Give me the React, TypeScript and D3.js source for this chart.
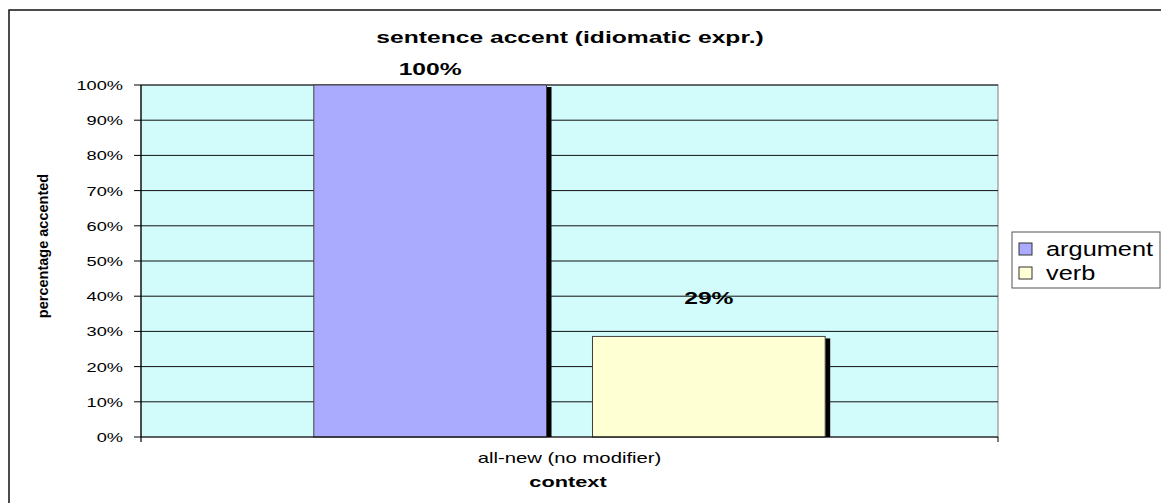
import React from "react";
import * as d3 from "d3";

const categories = ["all-new (no modifier)"];
const seriesNames = ["argument", "verb"];
const argumentValues = [1.0];
const verbValues = [0.2857];
const valueLabels = ["100%", "29%"];
const yTicks = [0, 0.1, 0.2, 0.3, 0.4, 0.5, 0.6, 0.7, 0.8, 0.9, 1.0];
const seriesColors = ["#aaaaff", "#ffffd4"];
const labelOffsets = [10, 32];

const W = 1161;
const H = 503;
const plot = { left: 141, right: 998, top: 85, bottom: 437 };
const FONT = "Arial, 'Liberation Sans', sans-serif";
const SX = 1.3;

function SText(props: {
  x: number;
  y: number;
  sx?: number;
  anchor?: string;
  size: number;
  weight?: string;
  children: React.ReactNode;
}) {
  const { x, y, sx = SX, anchor = "middle", size, weight = "normal", children } = props;
  return (
    <text
      transform={`translate(${x},${y}) scale(${sx},1)`}
      textAnchor={anchor}
      fontSize={size}
      fontWeight={weight}
      fontFamily={FONT}
      fill="#000"
    >
      {children}
    </text>
  );
}

export default function App() {
  const y = d3.scaleLinear().domain([0, 1]).range([plot.bottom, plot.top]);
  const x0 = d3.scaleBand<string>().domain(categories).range([plot.left, plot.right]);
  const x1 = d3
    .scaleBand<string>()
    .domain(seriesNames)
    .range([0, x0.bandwidth()])
    .paddingInner(0.165)
    .paddingOuter(0.62);
  const data = [argumentValues, verbValues];
  const fmt = d3.format(".0%");

  return (
    <svg
      width={W}
      height={H}
      style={{ position: "absolute", left: 0, top: 0, background: "#fff" }}
    >
      {/* outer frame */}
      <rect x={9} y={10} width={1300} height={700} fill="none" stroke="#111" strokeWidth={1.5} />

      {/* title */}
      <SText x={570} y={43} size={17} weight="bold" sx={1.45}>
        sentence accent (idiomatic expr.)
      </SText>

      {/* plot background */}
      <rect
        x={plot.left}
        y={plot.top}
        width={plot.right - plot.left}
        height={plot.bottom - plot.top}
        fill="#d2fcfc"
        stroke="#808080"
        strokeWidth={1}
      />

      {/* gridlines and y ticks */}
      {yTicks.map((t) => (
        <g key={t}>
          {t > 0 && (
            <line x1={plot.left} x2={plot.right} y1={y(t)} y2={y(t)} stroke="#111" strokeWidth={1} />
          )}
          <line x1={plot.left - 7} x2={plot.left} y1={y(t)} y2={y(t)} stroke="#000" strokeWidth={1} />
          <SText x={123} y={y(t) + 5} size={13.5} anchor="end" sx={1.35}>
            {fmt(t)}
          </SText>
        </g>
      ))}

      {/* bars */}
      {categories.map((c, ci) => (
        <g key={c} transform={`translate(${x0(c)},0)`}>
          {seriesNames.map((s, si) => {
            const v = data[si][ci];
            const bx = x1(s)!;
            const bw = x1.bandwidth();
            return (
              <g key={s}>
                <rect x={bx + bw} y={y(v) + 2} width={5} height={plot.bottom - y(v) - 2} fill="#000" />
                <rect
                  x={bx}
                  y={y(v)}
                  width={bw}
                  height={plot.bottom - y(v)}
                  fill={seriesColors[si]}
                  stroke="#404040"
                  strokeWidth={1}
                />
                <SText x={bx + bw / 2} y={y(v) - labelOffsets[si]} size={17} weight="bold" sx={1.45}>
                  {valueLabels[si]}
                </SText>
              </g>
            );
          })}
        </g>
      ))}

      {/* axes */}
      <line x1={plot.left} x2={plot.left} y1={plot.top} y2={plot.bottom + 5} stroke="#000" strokeWidth={1.2} />
      <line x1={plot.left} x2={plot.right} y1={plot.bottom} y2={plot.bottom} stroke="#000" strokeWidth={1.2} />
      <line x1={plot.right} x2={plot.right} y1={plot.bottom} y2={plot.bottom + 5} stroke="#000" strokeWidth={1} />

      {/* category labels */}
      {categories.map((c) => (
        <SText key={c} x={x0(c)! + x0.bandwidth() / 2} y={463} size={14.5} sx={1.4}>
          {c}
        </SText>
      ))}
      <SText x={568} y={487} size={15} weight="bold" sx={1.45}>
        context
      </SText>

      {/* y axis title */}
      <text
        transform="translate(48,246) rotate(-90)"
        textAnchor="middle"
        fontSize={14.5}
        fontWeight="bold"
        fontFamily={FONT}
      >
        percentage accented
      </text>

      {/* legend */}
      <rect x={1012} y={232} width={148} height={56} fill="#fff" stroke="#555" strokeWidth={1} />
      {seriesNames.map((s, i) => (
        <g key={s}>
          <rect x={1019} y={243 + i * 24} width={13} height={12} fill={seriesColors[i]} stroke="#333" strokeWidth={1} />
          <SText x={1046} y={256 + i * 24} size={19.5} anchor="start" sx={1.3}>
            {s}
          </SText>
        </g>
      ))}
    </svg>
  );
}
